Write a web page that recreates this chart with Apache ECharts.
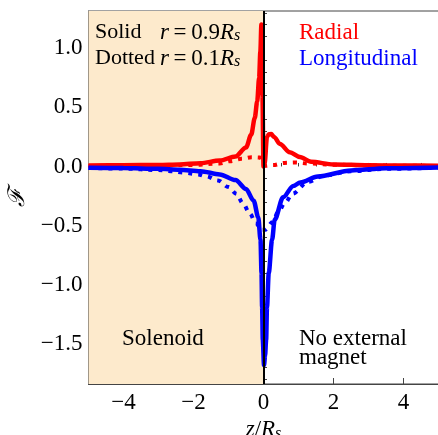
<!DOCTYPE html>
<html>
<head>
<meta charset="utf-8">
<script src="https://cdn.jsdelivr.net/npm/echarts@6/dist/echarts.min.js"></script>
<style>html,body{margin:0;padding:0;background:#fff;}#c{width:438px;height:435px;}</style>
</head>
<body>
<div id="c"></div>
<script>
// ---- data ----
const radialSolidZ = [-5, -4, -3, -2.4, -1.8, -1.25, -0.8, -0.5, -0.35, -0.25, -0.18, -0.125, -0.09, -0.06, -0.03, 0.0, 0.03, 0.1, 0.15, 0.22, 0.3, 0.47, 0.75, 1.04, 1.36, 2.0, 3.0, 4.0, 5.0];
const radialSolidF = [0.008, 0.01, 0.013, 0.017, 0.028, 0.05, 0.085, 0.16, 0.27, 0.41, 0.55, 0.75, 0.97, 1.2, 0.6, 0.0, 0.02, 0.25, 0.272, 0.275, 0.25, 0.19, 0.12, 0.08, 0.04, 0.017, 0.01, 0.008, 0.007];

const longSolidZ = [-5, -4, -3, -2.4, -1.8, -1.25, -0.8, -0.5, -0.28, -0.15, -0.086, -0.057, -0.04, -0.02, 0.015, 0.045, 0.075, 0.1, 0.15, 0.245, 0.32, 0.56, 0.85, 1.05, 1.55, 2.5, 3.5, 5];
const longSolidF = [-0.01, -0.013, -0.02, -0.028, -0.04, -0.067, -0.115, -0.19, -0.29, -0.43, -0.62, -0.9, -1.19, -1.47, -1.68, -1.6, -1.47, -1.19, -0.9, -0.62, -0.45, -0.26, -0.165, -0.135, -0.085, -0.034, -0.015, -0.008];

const radialDotZ = [-5, -4, -3, -2, -1.25, -0.96, -0.63, -0.34, -0.1, -0.03, 0.05, 0.27, 0.6, 0.9, 1.3, 2, 3, 4, 5];
const radialDotF = [0.004, 0.006, 0.009, 0.013, 0.025, 0.045, 0.065, 0.078, 0.075, 0.05, 0.005, 0.012, 0.03, 0.033, 0.025, 0.015, 0.009, 0.006, 0.004];

const longDotZ = [-5, -4, -3, -2.64, -2.26, -1.88, -1.63, -1.3, -1.0, -0.78, -0.58, -0.39, -0.22, -0.05, 0.05, 0.26, 0.42, 0.61, 0.83, 1.27, 1.74, 2.5, 3.5, 5];
const longDotF = [-0.012, -0.018, -0.03, -0.04, -0.053, -0.067, -0.084, -0.118, -0.174, -0.23, -0.314, -0.4, -0.48, -0.535, -0.535, -0.47, -0.385, -0.31, -0.23, -0.13, -0.076, -0.04, -0.02, -0.01];

const xMajorTicks = [-4, -2, 0, 2, 4];
const xMinorTicks = [-4.5, -3.5, -3, -2.5, -1.5, -1, -0.5, 0.5, 1, 1.5, 2.5, 3, 3.5, 4.5];
const yMajorTicks = [-1.5, -1.0, -0.5, 0.0, 0.5, 1.0];
const yMinorTicks = [-1.8, -1.7, -1.6, -1.4, -1.3, -1.2, -1.1, -0.9, -0.8, -0.7, -0.6, -0.4, -0.3, -0.2, -0.1, 0.1, 0.2, 0.3, 0.4, 0.6, 0.7, 0.8, 0.9, 1.1, 1.2, 1.3];

const xRange = [-5, 5];
const yRange = [-1.84, 1.315];
const solenoidSpan = [-5, 0];

function pairs(zs, fs) { return zs.map((z, i) => [z, fs[i]]); }

const SERIF = '"Liberation Serif", "DejaVu Serif", serif';
const AX = '#444';
const FS = 23;
const fmt = v => (v < 0 ? '\u2212' : '') + Math.abs(v).toFixed(1);
const fmtX = v => (v < 0 ? '\u2212' : '') + Math.abs(v);

const chart = echarts.init(document.getElementById('c'), null, {renderer: 'canvas'});

const baseX = {
  type: 'value', min: xRange[0], max: xRange[1], position: 'bottom',
  splitLine: {show: false}, axisLine: {show: true, onZero: false, lineStyle: {color: AX, width: 1}}
};
const baseY = {
  type: 'value', min: yRange[0], max: yRange[1], position: 'left',
  splitLine: {show: false}, axisLine: {show: true, onZero: false, lineStyle: {color: AX, width: 1}}
};
const subRich = {
  i: {fontFamily: SERIF, fontSize: FS, fontStyle: 'italic', color: '#000'},
  n: {fontFamily: SERIF, fontSize: FS, color: '#000'},
  s: {fontFamily: SERIF, fontSize: 16, fontStyle: 'italic', color: '#000', verticalAlign: 'bottom', lineHeight: 12}
};

const option = {
  animation: false,
  backgroundColor: '#fff',
  grid: {left: 88.5, right: -0.5, top: 11, bottom: 51, show: true, borderColor: AX, borderWidth: 1,
         backgroundColor: 'transparent', containLabel: false, outerBoundsMode: 'none'},
  xAxis: [
    Object.assign({}, baseX, {
      axisTick: {show: true, inside: true, length: 6, customValues: xMajorTicks, lineStyle: {color: AX}},
      axisLabel: {show: true, customValues: xMajorTicks, formatter: fmtX, fontFamily: SERIF, fontSize: FS, color: '#000', margin: 7},
      name: '{i|z}{n|/}{i|R}{s|s}', nameLocation: 'middle', nameGap: 33,
      nameTextStyle: {fontFamily: SERIF, fontSize: FS, color: '#000', rich: subRich}
    }),
    Object.assign({}, baseX, {
      axisLine: {show: false},
      axisTick: {show: true, inside: true, length: 3.5, customValues: xMinorTicks, lineStyle: {color: AX}},
      axisLabel: {show: false}
    })
  ],
  yAxis: [
    Object.assign({}, baseY, {
      axisTick: {show: true, inside: true, length: 6, customValues: yMajorTicks, lineStyle: {color: AX}},
      axisLabel: {show: true, customValues: yMajorTicks, formatter: fmt, fontFamily: SERIF, fontSize: FS, color: '#000', margin: 6},
      name: '\u2131', nameLocation: 'middle', nameGap: 57, nameRotate: 90,
      nameTextStyle: {fontFamily: '"DejaVu Serif", serif', fontSize: 23, fontStyle: 'italic', color: '#000'}
    }),
    Object.assign({}, baseY, {
      axisLine: {show: false},
      axisTick: {show: true, inside: true, length: 3.5, customValues: yMinorTicks, lineStyle: {color: AX}},
      axisLabel: {show: false}
    })
  ],
  series: [
    {
      type: 'line', data: [], z: 1, silent: true,
      markArea: {silent: true, itemStyle: {color: '#FDEACC'}, data: [[{xAxis: solenoidSpan[0]}, {xAxis: solenoidSpan[1]}]]}
    },
    {
      name: 'Radial dotted', type: 'line', data: pairs(radialDotZ, radialDotF), z: 3,
      showSymbol: false, smooth: 0.35, smoothMonotone: 'x',
      lineStyle: {color: '#ff0000', width: 4, type: [4, 6], cap: 'butt'}
    },
    {
      name: 'Longitudinal dotted', type: 'line', data: pairs(longDotZ, longDotF), z: 3,
      showSymbol: false, smooth: 0.35, smoothMonotone: 'x',
      lineStyle: {color: '#0000ff', width: 4, type: [4, 6], cap: 'butt'}
    },
    {
      name: 'Radial', type: 'line', data: pairs(radialSolidZ, radialSolidF), z: 4,
      showSymbol: false, smooth: 0.3, smoothMonotone: 'x',
      lineStyle: {color: '#ff0000', width: 4.5}
    },
    {
      name: 'Longitudinal', type: 'line', data: pairs(longSolidZ, longSolidF), z: 4,
      showSymbol: false, smooth: 0.3, smoothMonotone: 'x',
      lineStyle: {color: '#0000ff', width: 4.5}
    },
    {
      type: 'line', data: [], z: 6, silent: true,
      markLine: {silent: true, symbol: 'none', label: {show: false},
        lineStyle: {color: '#000', width: 2, type: 'solid'}, data: [{xAxis: 0}]}
    }
  ],
  graphic: [
    {type: 'text', left: 95, top: 21, z: 10, style: {text: 'Solid', font: '22px ' + SERIF, fill: '#000'}},
    {type: 'text', left: 95, top: 47, z: 10, style: {text: 'Dotted', font: '22px ' + SERIF, fill: '#000'}},
    {type: 'text', left: 160, top: 21, z: 10, style: {text: '{i|r}{n|\u2009=\u20090.9}{i|R}{s|s}', fill: '#000', rich: subRich}},
    {type: 'text', left: 160, top: 47, z: 10, style: {text: '{i|r}{n|\u2009=\u20090.1}{i|R}{s|s}', fill: '#000', rich: subRich}},
    {type: 'text', left: 299, top: 21, z: 10, style: {text: 'Radial', font: FS + 'px ' + SERIF, fill: '#ff0000'}},
    {type: 'text', left: 299, top: 47, z: 10, style: {text: 'Longitudinal', font: FS + 'px ' + SERIF, fill: '#0000ff'}},
    {type: 'text', left: 122, top: 327, z: 10, style: {text: 'Solenoid', font: FS + 'px ' + SERIF, fill: '#000'}},
    {type: 'text', left: 299, top: 327, z: 10, style: {text: 'No external', font: FS + 'px ' + SERIF, fill: '#000'}},
    {type: 'text', left: 299, top: 346, z: 10, style: {text: 'magnet', font: FS + 'px ' + SERIF, fill: '#000'}}
  ]
};
chart.setOption(option);
</script>
</body>
</html>
